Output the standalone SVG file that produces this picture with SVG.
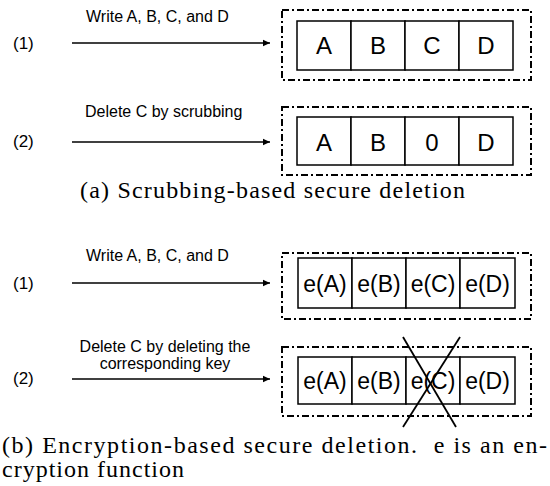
<svg xmlns="http://www.w3.org/2000/svg" width="550" height="486" viewBox="0 0 550 486">
<style>
.lbl{font-family:"Liberation Sans","DejaVu Sans",sans-serif;font-size:16px;fill:#000}
.num{font-family:"Liberation Sans","DejaVu Sans",sans-serif;font-size:17px;fill:#000}
.cell{fill:#fff;stroke:#000;stroke-width:1.5}
.ct{font-family:"Liberation Sans","DejaVu Sans",sans-serif;font-size:24px;text-anchor:middle;fill:#000}
.et{font-family:"Liberation Sans","DejaVu Sans",sans-serif;font-size:23px;text-anchor:middle;fill:#000}
.box{fill:none;stroke:#000;stroke-width:2;stroke-dasharray:7 3 2 3}
.arr{stroke:#000;stroke-width:1.6;fill:none;marker-end:url(#ah)}
.cap{font-family:"Liberation Serif","Times New Roman",serif;font-size:24px;fill:#000}
</style>
<defs>
<marker id="ah" markerWidth="8" markerHeight="8" refX="7" refY="4" orient="auto" markerUnits="userSpaceOnUse">
<path d="M0,0.8 L7,4 L0,7.2 Z" fill="#000"/>
</marker>
</defs>

<g id="connectors">
<line class="arr" x1="72" y1="43" x2="270" y2="43"/>
<line class="arr" x1="72" y1="142" x2="270" y2="142"/>
<line class="arr" x1="72" y1="283" x2="270" y2="283"/>
<line class="arr" x1="72" y1="379" x2="270" y2="379"/>
</g>

<g id="labels">
<text class="num" x="13" y="49">(1)</text>
<text class="lbl" x="86" y="22">Write A, B, C, and D</text>
<text class="num" x="13" y="147">(2)</text>
<text class="lbl" x="85" y="117">Delete C by scrubbing</text>
<text class="num" x="13" y="289">(1)</text>
<text class="lbl" x="86" y="261">Write A, B, C, and D</text>
<text class="num" x="13" y="384">(2)</text>
<text class="lbl" x="165" y="352" text-anchor="middle">Delete C by deleting the</text>
<text class="lbl" x="165" y="369" text-anchor="middle">corresponding key</text>
</g>

<g id="a1">
<rect class="box" x="282" y="10" width="249" height="70"/>
<rect class="cell" x="297" y="21" width="54" height="49"/>
<rect class="cell" x="351" y="21" width="54" height="49"/>
<rect class="cell" x="405" y="21" width="54" height="49"/>
<rect class="cell" x="459" y="21" width="54" height="49"/>
<text class="ct" x="324" y="54">A</text>
<text class="ct" x="378" y="54">B</text>
<text class="ct" x="432" y="54">C</text>
<text class="ct" x="486" y="54">D</text>
</g>

<g id="a2">
<rect class="box" x="282" y="107" width="249" height="68"/>
<rect class="cell" x="297" y="117" width="54" height="48"/>
<rect class="cell" x="351" y="117" width="54" height="48"/>
<rect class="cell" x="405" y="117" width="54" height="48"/>
<rect class="cell" x="459" y="117" width="54" height="48"/>
<text class="ct" x="324" y="151">A</text>
<text class="ct" x="378" y="151">B</text>
<text class="ct" x="432" y="151">0</text>
<text class="ct" x="486" y="151">D</text>
</g>

<text class="cap" x="80" y="198" textLength="385" lengthAdjust="spacing">(a) Scrubbing-based secure deletion</text>

<g id="b1">
<rect class="box" x="282" y="253" width="249" height="66"/>
<rect class="cell" x="298" y="258" width="54" height="50"/>
<rect class="cell" x="352" y="258" width="54" height="50"/>
<rect class="cell" x="406" y="258" width="54" height="50"/>
<rect class="cell" x="460" y="258" width="55" height="50"/>
<text class="et" x="325" y="292">e(A)</text>
<text class="et" x="379" y="292">e(B)</text>
<text class="et" x="433" y="292">e(C)</text>
<text class="et" x="487.5" y="292">e(D)</text>
</g>

<g id="b2">
<rect class="box" x="282" y="347" width="249" height="69"/>
<rect class="cell" x="298" y="357" width="54" height="47"/>
<rect class="cell" x="352" y="357" width="54" height="47"/>
<rect class="cell" x="406" y="357" width="54" height="47"/>
<rect class="cell" x="460" y="357" width="55" height="47"/>
<text class="et" x="325" y="389">e(A)</text>
<text class="et" x="379" y="389">e(B)</text>
<text class="et" x="433" y="389">e(C)</text>
<text class="et" x="487.5" y="389">e(D)</text>
<line x1="403" y1="337" x2="456" y2="427" stroke="#000" stroke-width="1.8"/>
<line x1="460" y1="337" x2="403" y2="427" stroke="#000" stroke-width="1.8"/>
</g>

<text class="cap" x="2" y="453" textLength="545" lengthAdjust="spacing" xml:space="preserve">(b) Encryption-based secure deletion.  e is an en-</text>
<text class="cap" x="2" y="477" textLength="182" lengthAdjust="spacing">cryption function</text>
</svg>
